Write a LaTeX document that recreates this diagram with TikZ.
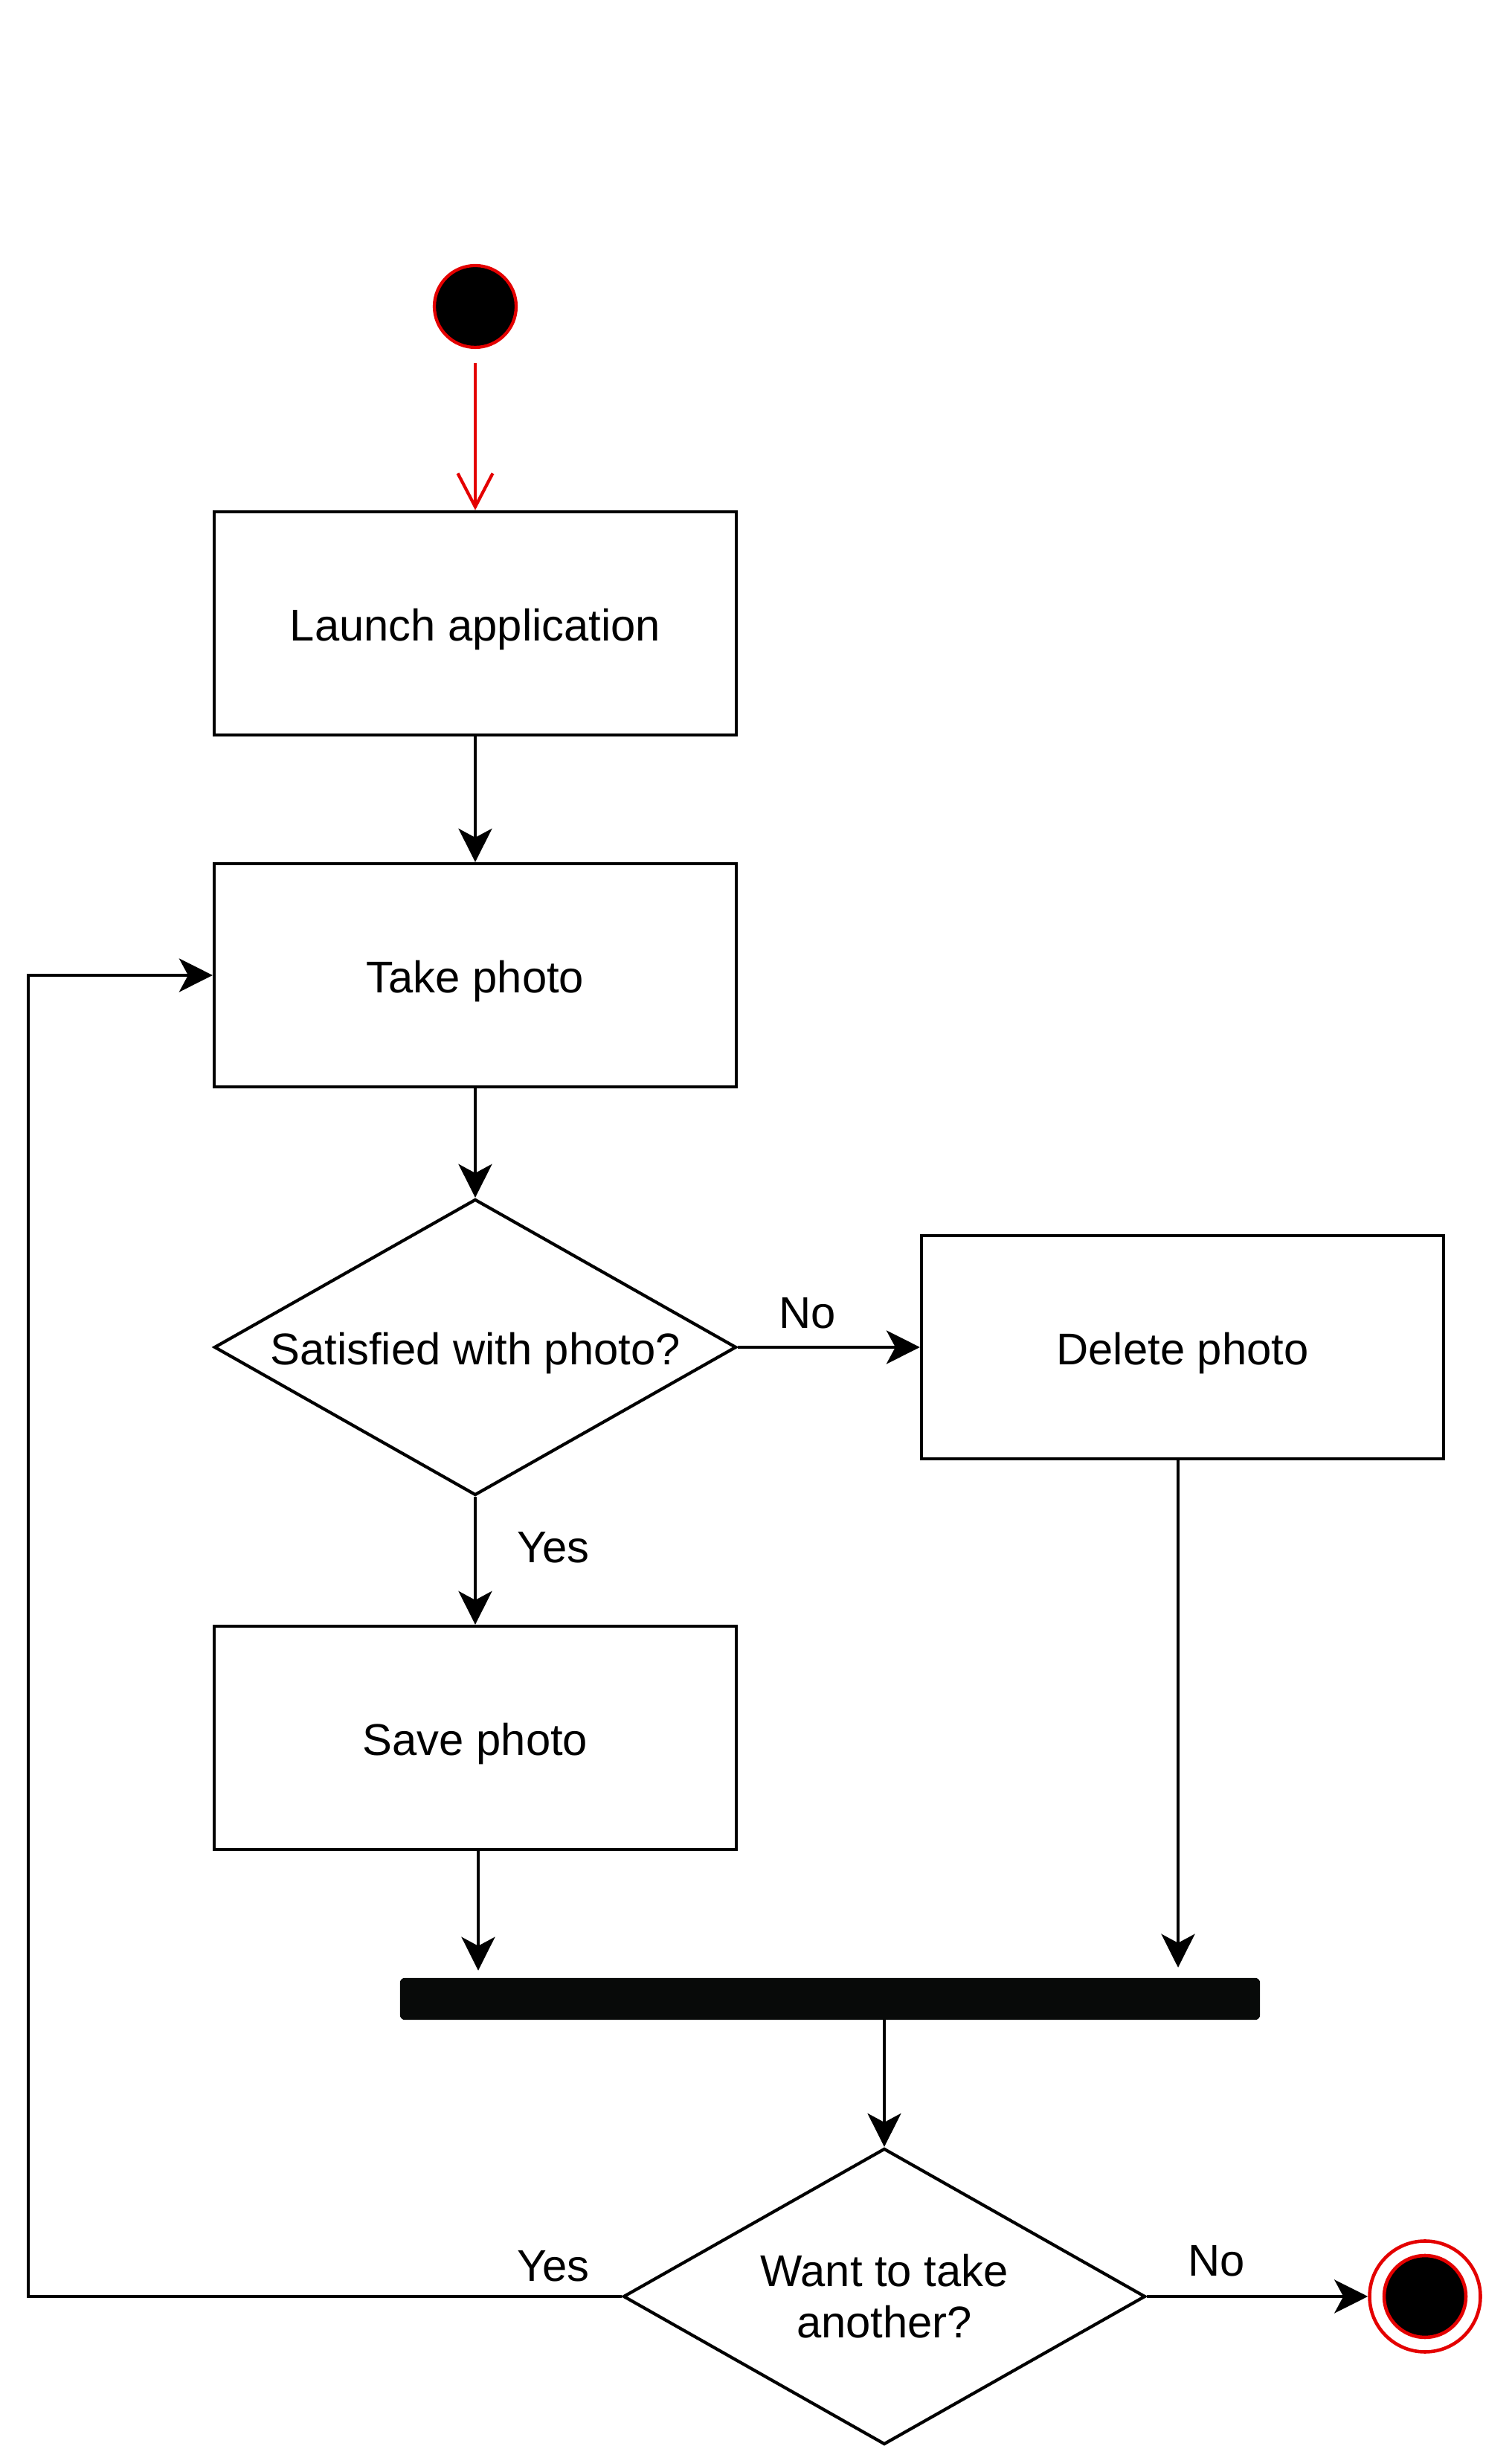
\documentclass[tikz,border=0pt]{standalone}
\usepackage{fontspec}
\setmainfont{Liberation Sans}
\usetikzlibrary{shapes.geometric,arrows.meta}
\definecolor{umlred}{RGB}{228,0,0}
\definecolor{barblack}{RGB}{8,10,9}
\begin{document}
\begin{tikzpicture}[
                    font=\fontsize{17}{19.6}\selectfont,
                    actbox/.style={draw, line width=1.2pt, minimum width=7.02cm, minimum height=3cm, text height=0.6cm, text depth=0.13cm},
                    decision/.style={draw, diamond, line width=1.2pt, minimum width=7.02cm, minimum height=3.98cm, inner sep=0pt, aspect=1.77, align=center},
                    flow/.style={line width=1.2pt, -{Stealth[length=0.45cm, width=0.45cm, inset=0.12cm]}},
                    redflow/.style={umlred, line width=1.2pt, -{Straight Barb[length=0.45cm, width=0.47cm]}}
                    ]
                    \useasboundingbox (0,0) rectangle (20.32,32.88);
                    \node[circle, draw=umlred, fill=black, line width=1.2pt, minimum size=1.1cm, inner sep=0pt] (start) at (6.39,28.76) {};
                    \node[actbox] (launch) at (6.39,24.50) {Launch application};
                    \node[actbox] (take) at (6.39,19.77) {Take photo};
                    \node[decision, text height=0.6cm, text depth=0.13cm] (satisfied) at (6.39,14.77) {Satisfied with photo?};
                    \node[actbox] (delete) at (15.90,14.77) {Delete photo};
                    \node[actbox] (save) at (6.39,9.52) {Save photo};
                    \node[fill=barblack, draw=barblack, rounded corners=0.06cm, minimum width=11.55cm, minimum height=0.55cm, inner sep=0pt] (join) at (11.16,6.01) {};
                    \node[decision] (another) at (11.89,2.01) {Want to take\\another?};
                    \node[circle, draw=umlred, fill=white, line width=1.3pt, minimum size=1.49cm, inner sep=0pt] (final) at (19.16,2.01) {};
                    \node[circle, draw=umlred, fill=black, line width=1.3pt, minimum size=1.1cm, inner sep=0pt] (finaldot) at (final) {};
                    \coordinate (loop) at (0.38,2.01);
                    % labels
                    \node (nosat) at (10.86,15.23) {No};
                    \node (yessat) at (7.44,12.08) {Yes};
                    \node (yesmore) at (7.44,2.42) {Yes};
                    \node (nomore) at (16.36,2.49) {No};
                    % flows
                    \draw[redflow, shorten <=0.19cm] (start) -- (launch);
                    \draw[flow] (launch) -- (take);
                    \draw[flow] (take) -- (satisfied);
                    \draw[flow] (satisfied) -- (delete);
                    \draw[flow] (satisfied) -- (save);
                    \draw[flow, shorten >=0.1cm] ([xshift=0.04cm]save.south) -- ([xshift=0.04cm]save.south |- join.north);
                    \draw[flow, shorten >=0.14cm] ([xshift=-0.06cm]delete.south) -- ([xshift=-0.06cm]delete.south |- join.north);
                    \draw[flow, line width=1pt] (join.south -| another.north) -- (another.north);
                    \draw[flow] (another) -- (final);
                    \draw[flow] (another.west) -- (loop) |- (take.west);
                \end{tikzpicture}
\end{document}
